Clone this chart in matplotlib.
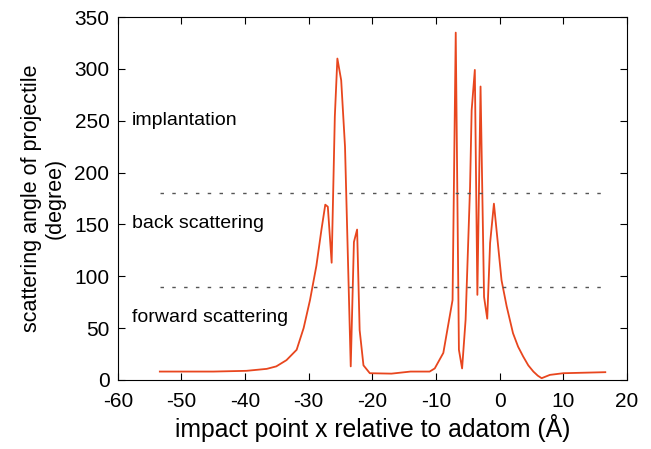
import numpy as np
import matplotlib
matplotlib.use("Agg")
import matplotlib.pyplot as plt

plt.rcParams["font.family"] = ["Liberation Sans", "DejaVu Sans"]
plt.rcParams["axes.unicode_minus"] = False

# impact point (Å) and scattering angle (degree)
x_imp = [-53.4, -49.8, -45, -39.8, -36.6, -35.1, -33.5, -31.9, -30.8, -29.8, -28.8,
         -28.0, -27.4, -27.0, -26.4, -25.9, -25.5, -24.9, -24.3, -23.4, -22.9,
         -22.4, -22.0, -21.4, -20.4, -17, -14, -11, -10.2, -8.85, -7.4, -6.9,
         -6.4, -5.9, -5.35, -4.65, -4.4, -3.9, -3.5, -3.0, -2.45, -1.95, -1.5,
         -0.9, 0.3, 1.1, 2.1, 2.9, 3.7, 4.5, 5.3, 6.0, 6.6, 7.9, 10, 16.6]
angle = [8, 8, 8, 8.7, 10.6, 13, 19, 29, 50, 77, 110,
         145, 169, 167, 113, 254, 310, 289, 225, 13, 133,
         145, 48, 14, 6.4, 6, 8, 8, 11, 26, 77, 335,
         29, 11, 58, 186, 260, 299, 82, 283, 80, 59, 132,
         170, 96, 71, 45, 32, 22.5, 14, 8, 4, 1.6, 4.8, 6.4, 7.4]

bounds = [90, 180]
regions = ["forward scattering", "back scattering", "implantation"]
region_y = [60, 151, 250]

fig = plt.figure(figsize=(6.51, 4.49), dpi=100)
ax = fig.add_axes([0.181, 0.154, 0.782, 0.808])

ax.plot(x_imp, angle, color="#e8461e", lw=1.3)
for b in bounds:
    ax.plot([x_imp[0], x_imp[-1]], [b, b], color="#555555", lw=1.0,
            linestyle=(0, (2.5, 6)))
for t, yy in zip(regions, region_y):
    ax.text(-57.8, yy, t, fontsize=14, va="center", ha="left")

ax.set_xlim(-60, 20)
ax.set_ylim(0, 350)
ax.set_xticks(np.arange(-60, 21, 10))
ax.set_yticks(np.arange(0, 351, 50))
ax.tick_params(direction="in", top=True, right=True, labelsize=15, length=5)
ax.tick_params(axis="x", pad=9)
ax.tick_params(axis="y", pad=6)
ax.set_xlabel("impact point x relative to adatom (Å)", fontsize=17.8, labelpad=2)
ax.set_ylabel("scattering angle of projectile\n(degree)", fontsize=15.5, labelpad=6)

fig.savefig("out.png", dpi=100)
